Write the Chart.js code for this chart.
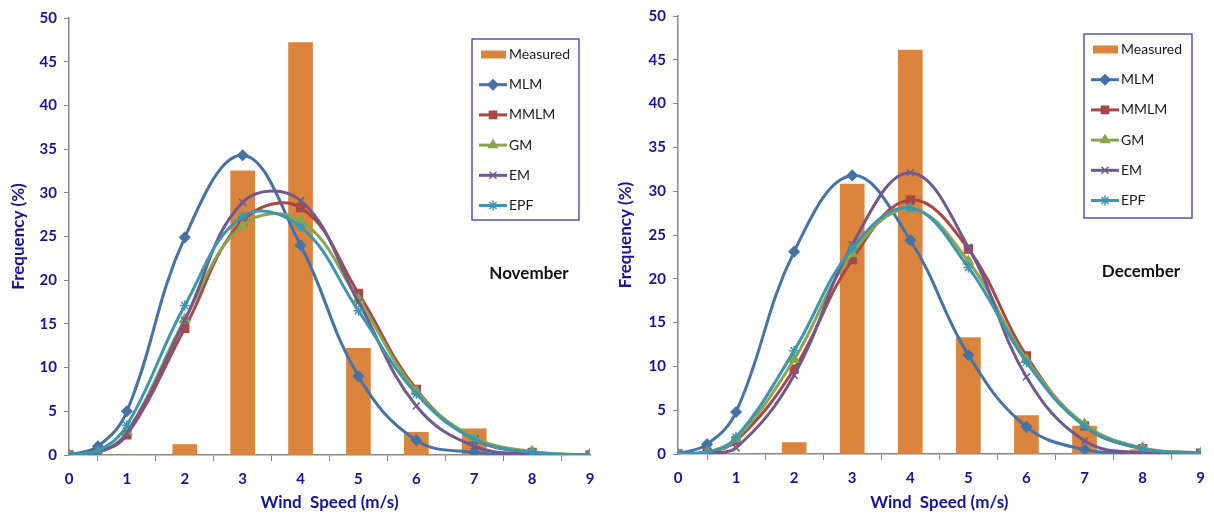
<!DOCTYPE html>
<html lang="en">
<head>
<meta charset="UTF-8">
<title>Wind speed frequency - November / December</title>
<script src="https://cdn.jsdelivr.net/npm/chart.js"></script>
<style>
  body { margin: 0; background: #fff; }
  .wrap { position: relative; width: 1214px; height: 518px; }
  canvas { position: absolute; top: 0; }
  #chartNov { left: 0; }
  #chartDec { left: 607px; }
</style>
</head>
<body>
<div class="wrap">
  <canvas id="chartNov" width="607" height="518"></canvas>
  <canvas id="chartDec" width="607" height="518"></canvas>
</div>

<script>
// wind speed classes (m/s)
const speeds = [0, 0.5, 1, 2, 3, 4, 5, 6, 7, 8, 9];
const seriesNames = ['Measured', 'MLM', 'MMLM', 'GM', 'EM', 'EPF'];

// November
const novMeasured = [0, 0, 0, 1.2, 32.5, 47.2, 12.2, 2.6, 3.0, 0.4, 0];
const novMLM  = [0, 1.0, 5.0, 24.9, 34.3, 24.0, 9.0, 1.7, 0.3, 0.05, 0];
const novMMLM = [0, 0.3, 2.3, 14.5, 26.8, 28.3, 18.5, 7.5, 1.8, 0.3, 0];
const novGM   = [0, 0.3, 2.6, 15.5, 26.3, 26.8, 17.8, 7.3, 2.0, 0.4, 0];
const novEM   = [0, 0.3, 2.5, 15.4, 28.9, 29.1, 17.5, 5.6, 1.0, 0.1, 0];
const novEPF  = [0, 0.5, 3.4, 17.1, 27.3, 26.1, 16.5, 7.0, 1.8, 0.3, 0];

// December
const decMeasured = [0, 0, 0, 1.3, 30.8, 46.1, 13.3, 4.4, 3.2, 0.5, 0];
const decMLM  = [0, 1.1, 4.8, 23.1, 31.8, 24.4, 11.3, 3.1, 0.5, 0.05, 0];
const decMMLM = [0, 0.2, 1.5, 9.7, 22.2, 29.0, 23.4, 11.2, 3.2, 0.6, 0.1];
const decGM   = [0, 0.2, 1.7, 10.8, 22.9, 28.0, 22.0, 10.8, 3.4, 0.7, 0.1];
const decEM   = [0, 0.1, 0.7, 9.0, 23.9, 32.1, 23.6, 8.8, 1.5, 0.1, 0];
const decEPF  = [0, 0.2, 1.9, 11.8, 23.5, 28.1, 21.3, 10.5, 3.2, 0.6, 0.1];

const navy = '#14149a';
const axisGrey = '#878787';
const colores = ['#db843d', '#4572a7', '#aa4643', '#89a54e', '#71588f', '#3d96ae'];
const estilos = [null, 'rectRot', 'rect', 'triangle', 'crossRot', 'star'];
const raios = [0, 5, 5.5, 5.5, 5, 5];

function pares(valores) {
  return speeds.map(function (s, i) { return { x: s, y: valores[i] }; });
}

function montarDatasets(listas) {
  return listas.map(function (valores, i) {
    if (i === 0) {
      return {
        type: 'bar',
        label: seriesNames[0],
        data: pares(valores),
        backgroundColor: colores[0],
        barThickness: 24,
        order: 10
      };
    }
    return {
      type: 'line',
      label: seriesNames[i],
      data: pares(valores),
      borderColor: colores[i],
      backgroundColor: colores[i],
      borderWidth: 3,
      tension: 0.4,
      pointStyle: estilos[i],
      pointRadius: raios[i],
      pointBorderWidth: 1.5,
      pointBackgroundColor: colores[i],
      pointBorderColor: colores[i],
      order: 6 - i
    };
  });
}

// legend box and month label drawn inside the plot
const caixaLegenda = {
  id: 'caixaLegenda',
  afterDraw(chart, args, opts) {
    const ctx = chart.ctx;
    ctx.save();
    ctx.fillStyle = '#fff';
    ctx.fillRect(opts.x, opts.y, opts.w, opts.h);
    ctx.strokeStyle = '#3a3aae';
    ctx.lineWidth = 1.3;
    ctx.strokeRect(opts.x, opts.y, opts.w, opts.h);

    chart.data.datasets.forEach(function (ds, i) {
      const cy = opts.y + 15.5 + i * 30.2;
      const x0 = opts.x + 7;
      if (ds.type === 'bar') {
        ctx.fillStyle = ds.backgroundColor;
        ctx.fillRect(x0 + 2, cy - 4, 25, 8);
      } else {
        ctx.strokeStyle = ds.borderColor;
        ctx.lineWidth = 3;
        ctx.beginPath();
        ctx.moveTo(x0, cy);
        ctx.lineTo(x0 + 28, cy);
        ctx.stroke();
        ctx.fillStyle = ds.borderColor;
        ctx.lineWidth = 1.5;
        Chart.helpers.drawPoint(ctx, { pointStyle: ds.pointStyle, radius: 5, borderWidth: 1.5, rotation: 0 }, x0 + 14, cy);
      }
      ctx.fillStyle = '#1a1a1a';
      ctx.font = '14px Lato';
      ctx.textAlign = 'left';
      ctx.textBaseline = 'middle';
      ctx.fillText(ds.label, x0 + 30, cy);
    });

    ctx.fillStyle = '#111';
    ctx.font = 'bold 17px Lato';
    ctx.textAlign = 'center';
    ctx.fillText(opts.mes, opts.mx, opts.my);
    ctx.restore();
  }
};

function criarGrafico(id, listas, cfg) {
  const fonteTick = { family: 'Lato', weight: 'bold', size: 15 };
  const fonteTitulo = { family: 'Lato', weight: 'bold', size: 17 };
  return new Chart(document.getElementById(id), {
    type: 'scatter',
    data: { datasets: montarDatasets(listas) },
    plugins: [caixaLegenda],
    options: {
      responsive: false,
      animation: false,
      layout: { padding: { left: 0, right: cfg.direita, top: cfg.topo, bottom: 0 } },
      plugins: {
        legend: { display: false },
        tooltip: { enabled: false },
        caixaLegenda: cfg.legenda
      },
      scales: {
        x: {
          type: 'linear',
          min: 0, max: 9,
          offset: false,
          ticks: { stepSize: 1, color: navy, font: fonteTick, padding: 9 },
          grid: { drawOnChartArea: false, tickLength: 6, color: axisGrey },
          border: { color: axisGrey, width: 1.5 },
          title: { display: true, text: 'Wind  Speed (m/s)', color: navy, font: fonteTitulo, padding: { top: 0, bottom: 5 } },
          afterFit(scale) { scale.height = cfg.alturaX; }
        },
        y: {
          min: 0, max: 50,
          ticks: { stepSize: 5, color: navy, font: fonteTick, padding: 7 },
          grid: { drawOnChartArea: false, tickLength: 5, color: axisGrey },
          border: { color: axisGrey, width: 1.5 },
          title: { display: true, text: 'Frequency (%)', color: navy, font: fonteTitulo, padding: { top: 8, bottom: 0 } },
          afterFit(scale) { scale.width = cfg.larguraY; }
        }
      }
    }
  });
}

criarGrafico('chartNov', [novMeasured, novMLM, novMMLM, novGM, novEM, novEPF], {
  direita: 17, topo: 18, alturaX: 63, larguraY: 69,
  legenda: { x: 472, y: 39, w: 107, h: 181, mes: 'November', mx: 529, my: 274 }
});

criarGrafico('chartDec', [decMeasured, decMLM, decMMLM, decGM, decEM, decEPF], {
  direita: 11, topo: 13.5, alturaX: 64, larguraY: 71,
  legenda: { x: 477, y: 34, w: 108, h: 184, mes: 'December', mx: 534, my: 272 }
});
</script>
</body>
</html>
